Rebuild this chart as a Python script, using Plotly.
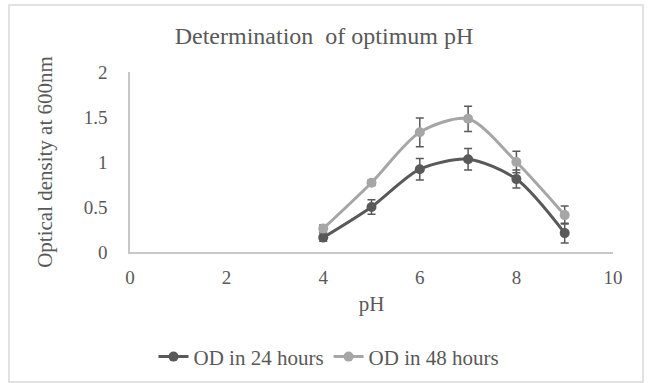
import plotly.graph_objects as go

ph = [4, 5, 6, 7, 8, 9]
od24 = [0.16, 0.50, 0.92, 1.03, 0.81, 0.21]
od24_err = [0.04, 0.08, 0.12, 0.12, 0.10, 0.11]
od48 = [0.26, 0.77, 1.33, 1.48, 1.00, 0.41]
od48_err = [0.04, 0.03, 0.16, 0.14, 0.12, 0.10]
x_ticks = [0, 2, 4, 6, 8, 10]
y_ticks = [0, 0.5, 1, 1.5, 2]
y_ticktext = ["0", "0.5", "1", "1.5", "2"]

FONT = "Liberation Serif"
DARK = "#595959"
LIGHT = "#a6a6a6"

fig = go.Figure()
fig.add_trace(go.Scatter(
    x=ph, y=od24, name="OD in 24 hours", mode="lines+markers",
    line=dict(color=DARK, width=3, shape="spline", smoothing=0.8),
    marker=dict(color=DARK, size=10),
    error_y=dict(type="data", array=od24_err, color=DARK, thickness=1.5, width=4),
))
fig.add_trace(go.Scatter(
    x=ph, y=od48, name="OD in 48 hours", mode="lines+markers",
    line=dict(color=LIGHT, width=3, shape="spline", smoothing=0.8),
    marker=dict(color=LIGHT, size=10),
    error_y=dict(type="data", array=od48_err, color=DARK, thickness=1.5, width=4),
))

fig.update_layout(
    width=648, height=383,
    margin=dict(l=130, r=35, t=72, b=131, autoexpand=False),
    paper_bgcolor="white", plot_bgcolor="white",
    font=dict(family=FONT, color=DARK, size=19),
    title=dict(text="Determination&nbsp; of optimum pH", x=0.5, xanchor="center",
               y=1 - 36 / 383, yanchor="middle",
               font=dict(family=FONT, size=24, color=DARK)),
    xaxis=dict(range=[0, 10], tickvals=x_ticks, showgrid=False, zeroline=False,
               showline=True, linecolor="#c8c8c8", linewidth=1.5,
               ticks="", ticklabelstandoff=7, tickfont=dict(size=19, color=DARK),
               title=dict(text="pH", font=dict(size=21, color=DARK), standoff=10)),
    yaxis=dict(range=[0, 2], tickvals=y_ticks, ticktext=y_ticktext,
               showgrid=False, zeroline=False,
               showline=True, linecolor="#c8c8c8", linewidth=1.5,
               ticks="", ticklabelstandoff=17, tickfont=dict(size=19, color=DARK),
               title=dict(text="Optical density at 600nm", font=dict(size=21, color=DARK),
                          standoff=25)),
    legend=dict(orientation="h", x=0.412, xanchor="center", y=-0.583, yanchor="middle",
                font=dict(size=21, color=DARK), traceorder="normal"),
    showlegend=True,
)

fig.add_shape(type="rect", xref="paper", yref="paper",
              x0=(9 - 130) / 483, x1=(643 - 130) / 483,
              y0=(252 - 382) / 180, y1=(252 - 5) / 180,
              line=dict(color="#d9d9d9", width=1.5), layer="below")

fig.write_html("out.html")
